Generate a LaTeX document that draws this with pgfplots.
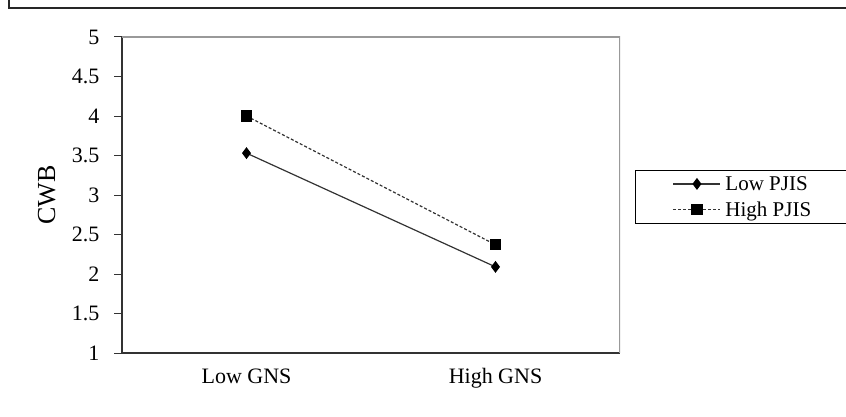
\documentclass[border=0pt]{standalone}
\usepackage{fontspec}
\setmainfont{Liberation Serif}
\usepackage{pgfplots}
\pgfplotsset{compat=1.18}
\definecolor{lineg}{HTML}{333333}
\begin{document}
\begin{tikzpicture}[x=1bp,y=1bp]
\useasboundingbox (0,0) rectangle (846,416);
\draw[line width=2bp, color=black!85] (9,416) -- (9,408) -- (847,408);
\begin{axis}[
  at={(122bp,63bp)}, anchor=south west,
  width=498bp, height=316bp, scale only axis,
  xmin=-0.5, xmax=1.5, ymin=1, ymax=5,
  axis x line*=bottom, axis y line*=left,
  axis line style={line width=1.2bp, color=black!80, -},
  xtick={0,1}, xticklabels={Low GNS, High GNS},
  extra x ticks={-0.5,0.5,1.5}, extra x tick labels={},
  extra x tick style={major tick length=4bp, tick style={line width=1bp, color=black!80}},
  major x tick style={draw=none},
  ytick={1,1.5,...,5},
  y tick style={line width=1bp, color=black!80},
  tick align=outside, major tick length=8bp,
  /pgf/number format/assume math mode=true,
  yticklabel style={font=\fontsize{22bp}{25bp}\selectfont, xshift=-11bp},
  xticklabel style={font=\fontsize{22bp}{25bp}\selectfont, yshift=-4bp},
  ylabel={CWB},
  ylabel style={font=\fontsize{26bp}{30bp}\selectfont, at={(axis description cs:-0.151,0.5)}, anchor=center},
  legend style={at={(axis description cs:1.03,0.58)}, anchor=north west,
    draw=black, line width=1bp, font=\fontsize{21bp}{24bp}\selectfont,
    inner xsep=0bp, inner ysep=4bp, row sep=6bp},
  legend cell align=left,
  legend image code/.code={
    \path[draw=none, fill=none] (0bp,-4bp) rectangle (88bp,4bp);
    \draw[#1, mark=none] (38bp,0bp) -- (85bp,0bp);
    \draw[#1, solid] plot coordinates {(61.5bp,0bp)};
  },
]
\draw[color=black!40, line width=1.5bp] (rel axis cs:0,1) -- (rel axis cs:1,1) -- (rel axis cs:1,0);
\addplot[color=lineg, line width=1.2bp, mark=diamond*, mark size=5bp, mark options={fill=black, draw=black, solid}] coordinates {(0,3.53) (1,2.09)};
\addlegendentry{Low PJIS\kern40bp}
\addplot[color=lineg, line width=1.2bp, dash pattern=on 3bp off 2bp, mark=square*, mark size=5bp, mark options={fill=black, draw=black, solid}] coordinates {(0,4.00) (1,2.37)};
\addlegendentry{High PJIS\kern40bp}
\end{axis}
\end{tikzpicture}
\end{document}
